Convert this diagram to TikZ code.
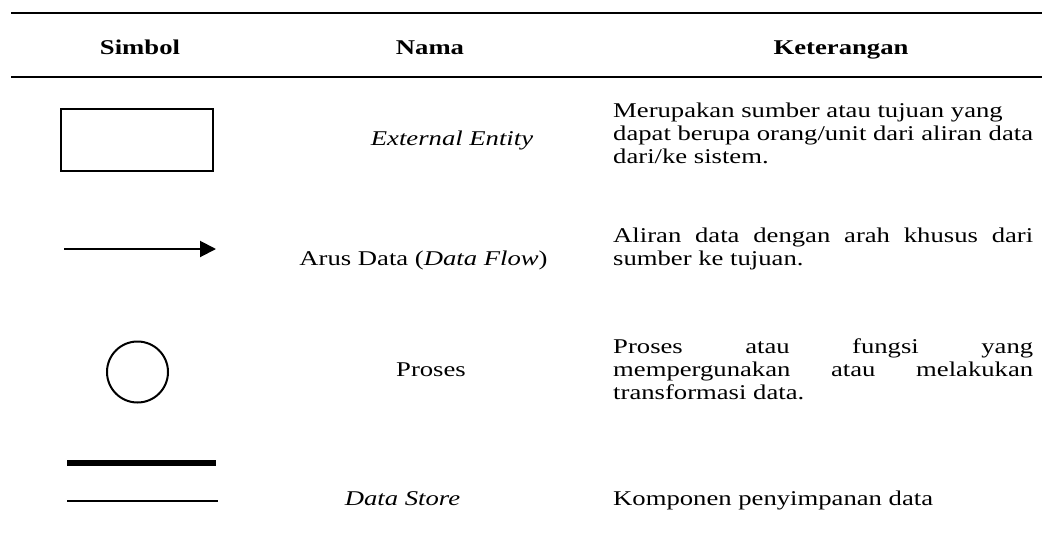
\documentclass[tikz,border=0pt]{standalone}
\usepackage{fontspec}
\setmainfont{Liberation Serif}[FakeStretch=1.27]
\usetikzlibrary{arrows.meta}
\newcommand{\jline}[1]{\makebox[420pt][s]{#1}}
\begin{document}
\begin{tikzpicture}[x=1pt,y=-1pt,
  txtlab/.style={inner sep=0pt, anchor=base, font=\fontsize{21}{23}\selectfont},
  headlab/.style={txtlab, font=\fontsize{21}{23}\selectfont\bfseries},
  namelab/.style={txtlab},
  desclab/.style={txtlab, anchor=base west},
  rulefat/.style={line width=2.5pt},
  symbox/.style={draw, line width=2pt, inner sep=0pt}]
\useasboundingbox (0,0) rectangle (1042,544);

% table rules
\coordinate (r1a) at (11,13);
\coordinate (r1b) at (1042,13);
\coordinate (r2a) at (11,77);
\coordinate (r2b) at (1042,77);
\draw[rulefat] (r1a) -- (r1b);
\draw[rulefat] (r2a) -- (r2b);

% header
\node[headlab] (hSym) at (140,54) {Simbol};
\node[headlab] (hNam) at (430,54) {Nama};
\node[headlab] (hKet) at (841,54) {Keterangan};

% row 1: external entity
\node[symbox, rectangle, minimum width=152pt, minimum height=62pt] (ent) at (137,140) {};
\node[namelab] (nEnt) at (452,145) {\itshape External Entity};
\node[desclab] (d1a) at (613,117) {Merupakan sumber atau tujuan yang};
\node[desclab] (d1b) at (613,140) {dapat berupa orang/unit dari aliran data};
\node[desclab] (d1c) at (613,163) {dari/ke sistem.};

% row 2: data flow
\coordinate (fA) at (64,249);
\coordinate (fB) at (216,249);
\draw[line width=2pt, -{Triangle[length=16pt,width=16pt]}] (fA) -- (fB);
\node[namelab] (nFlow) at (423.5,265) {Arus Data (\textit{Data Flow})};
\node[desclab] (d2a) at (613,242) {\jline{Aliran data dengan arah khusus dari}};
\node[desclab] (d2b) at (613,265) {sumber ke tujuan.};

% row 3: process
\node[symbox, circle, minimum size=61pt] (proc) at (137.5,372) {};
\node[namelab] (nProc) at (431,376) {Proses};
\node[desclab] (d3a) at (613,353) {\jline{Proses atau fungsi yang}};
\node[desclab] (d3b) at (613,376) {\jline{mempergunakan atau melakukan}};
\node[desclab] (d3c) at (613,399) {transformasi data.};

% row 4: data store
\coordinate (sA) at (67,463);
\coordinate (sB) at (216,463);
\coordinate (sC) at (67,501);
\coordinate (sD) at (218,501);
\draw[line width=6pt] (sA) -- (sB);
\draw[line width=2pt] (sC) -- (sD);
\node[namelab] (nStore) at (402.5,505) {\itshape Data Store};
\node[desclab] (d4a) at (613,505) {Komponen penyimpanan data};
\end{tikzpicture}
\end{document}
